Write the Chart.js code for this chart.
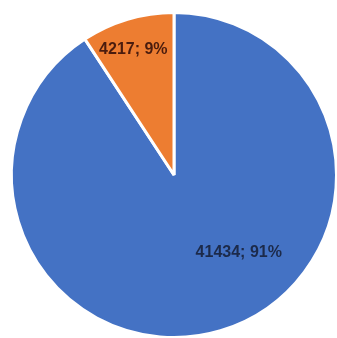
<!DOCTYPE html>
<html>
<head>
<meta charset="utf-8">
<script src="https://cdn.jsdelivr.net/npm/chart.js@4/dist/chart.umd.min.js"></script>
<style>
  html, body { margin: 0; padding: 0; background: #ffffff; overflow: hidden; }
  #wrap { position: absolute; left: 0; top: 0; width: 350px; height: 350px; }
</style>
</head>
<body>
<div id="wrap"><canvas id="c" width="350" height="350"></canvas></div>
<script>
const categories = ["A", "B"];
const values = [41434, 4217];
const percents = ["91%", "9%"];
const colors = ["#4472C4", "#ED7D31"];
const labelColors = ["#1c2a4a", "#4a1c0e"];
// label placement: [angle from top clockwise in degrees, fraction of radius]
const labelPos = [[140, 0.62], [342, 0.81]];

const labelPlugin = {
  id: 'sliceLabels',
  afterDatasetsDraw(chart) {
    const ctx = chart.ctx;
    const meta = chart.getDatasetMeta(0);
    ctx.save();
    ctx.font = 'bold 16px "Liberation Sans", Arial, sans-serif';
    ctx.textAlign = 'center';
    ctx.textBaseline = 'middle';
    meta.data.forEach((arc, i) => {
      const a = labelPos[i][0] * Math.PI / 180;
      const r = arc.outerRadius * labelPos[i][1];
      const x = arc.x + Math.sin(a) * r;
      const y = arc.y - Math.cos(a) * r;
      ctx.fillStyle = labelColors[i];
      ctx.fillText(values[i] + '; ' + percents[i], x, y);
    });
    ctx.restore();
  }
};

new Chart(document.getElementById('c'), {
  type: 'pie',
  data: {
    labels: categories,
    datasets: [{
      data: values,
      backgroundColor: colors,
      borderColor: '#ffffff',
      borderWidth: 3
    }]
  },
  options: {
    responsive: false,
    animation: false,
    layout: { padding: { left: 10, top: 11, right: 12, bottom: 11 } },
    plugins: { legend: { display: false }, tooltip: { enabled: false } }
  },
  plugins: [labelPlugin]
});
</script>
</body>
</html>
